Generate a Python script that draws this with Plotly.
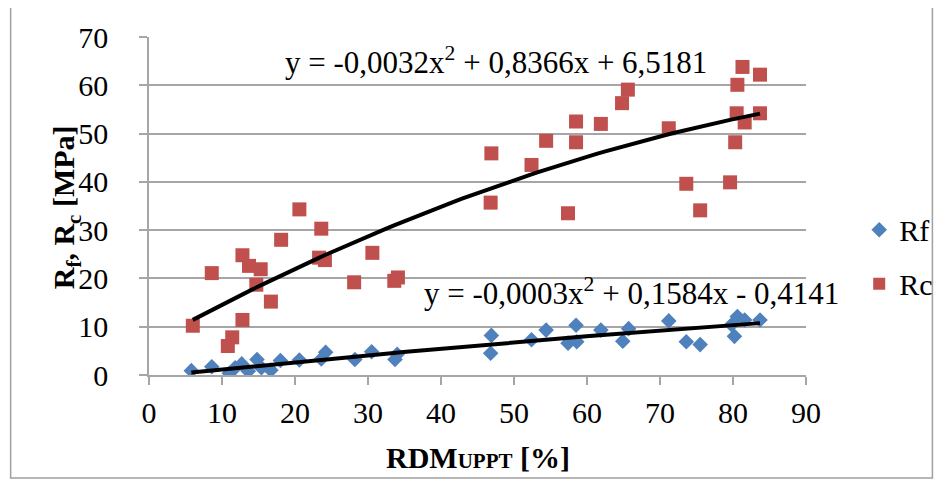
import plotly.graph_objects as go
import numpy as np

# Rf - Messpunkte (RDM_UPPT [%], Rf [MPa])
rf_x = [5.8, 8.6, 11.0, 11.8, 12.7, 13.6, 14.8, 15.4, 16.7, 18.0, 20.6, 23.6, 24.2, 28.2,
        30.5, 33.7, 34.0, 46.8, 46.9, 52.4, 54.4, 57.4, 58.5, 58.6, 61.9, 64.9, 65.7, 71.2,
        73.6, 75.5, 79.8, 80.2, 80.6, 81.6, 83.7]
rf_y = [0.9, 1.7, 0.35, 1.5, 2.3, 0.8, 3.2, 1.5, 1.0, 3.0, 3.1, 3.3, 4.7, 3.2,
        4.8, 3.2, 4.3, 4.5, 8.2, 7.3, 9.3, 6.6, 10.3, 6.9, 9.3, 7.0, 9.6, 11.2,
        6.9, 6.3, 10.4, 8.0, 12.1, 11.4, 11.4]

# Rc - Messpunkte
rc_x = [6.0, 8.6, 10.8, 11.4, 12.8, 12.8, 13.7, 14.7, 15.3, 16.7, 18.1, 20.6, 23.3, 23.6,
        24.1, 28.1, 30.6, 33.6, 34.1, 46.8, 46.9, 52.4, 54.4, 57.4, 58.5, 58.5, 61.9, 64.8,
        65.6, 71.2, 73.6, 75.5, 79.6, 80.3, 80.5, 80.6, 81.3, 81.6, 83.7, 83.7]
rc_y = [10.2, 21.1, 6.0, 7.8, 11.4, 24.8, 22.6, 18.7, 21.9, 15.2, 28.0, 34.3, 24.3, 30.3,
        23.8, 19.2, 25.3, 19.5, 20.2, 35.7, 45.9, 43.5, 48.5, 33.5, 48.2, 52.5, 52.0, 56.3,
        59.1, 51.1, 39.6, 34.1, 39.9, 48.2, 54.2, 60.1, 63.8, 52.3, 62.2, 54.2]

# Trendlinien-Koeffizienten (wie im Diagramm angegeben)
rf_coef = [-0.0003, 0.1584, -0.4141]
rc_coef = [-0.0032, 0.8366, 6.5181]

x_ticks = list(range(0, 100, 10))
y_ticks = list(range(0, 80, 10))

FONT = "Liberation Serif"
GRID = "#a6a6a6"
FS = 30

fig = go.Figure()

fig.add_trace(go.Scatter(x=rf_x, y=rf_y, mode="markers", name="Rf", legendgroup="rf",
                         marker=dict(symbol="diamond", size=12, color="#4f81bd")))
fig.add_trace(go.Scatter(x=rc_x, y=rc_y, mode="markers", name="Rc", legendgroup="rc",
                         marker=dict(symbol="square", size=14, color="#c0504d")))

# Trendlinien über den Datenbereich
for xs, coef in [(rf_x, rf_coef), (rc_x, rc_coef)]:
    t = np.linspace(min(xs), max(xs), 60)
    fig.add_trace(go.Scatter(x=t, y=np.polyval(coef, t), mode="lines", showlegend=False,
                             line=dict(color="black", width=4), hoverinfo="skip"))

fig.add_annotation(x=18.3, y=65.2, xref="x", yref="y", xanchor="left", yanchor="middle",
                   showarrow=False, text="y = -0,0032x<sup>2</sup> + 0,8366x + 6,5181",
                   font=dict(family=FONT, size=31, color="black"))
fig.add_annotation(x=37.4, y=17.2, xref="x", yref="y", xanchor="left", yanchor="middle",
                   showarrow=False, text="y = -0,0003x<sup>2</sup> + 0,1584x - 0,4141",
                   font=dict(family=FONT, size=31, color="black"))

# Achsentitel als Annotationen (feste Position)
fig.add_annotation(x=-0.126, y=0.497, xref="paper", yref="paper", showarrow=False,
                   xanchor="center", yanchor="middle", textangle=-90,
                   text="<b>R<sub>f</sub>, R<sub>c</sub> [MPa]</b>",
                   font=dict(family=FONT, size=FS, color="black"))
fig.add_annotation(x=0.5, y=-0.243, xref="paper", yref="paper", showarrow=False,
                   xanchor="center", yanchor="middle",
                   text="<b>RDM<span style='font-size:21px'>UPPT</span> [%]</b>",
                   font=dict(family=FONT, size=FS, color="black"))

# Rahmen um das ganze Diagramm
fig.add_shape(type="rect", xref="paper", yref="paper", x0=-0.2106, x1=1.1924, y0=-0.305, y1=1.109,
              line=dict(color="#a0a0a0", width=1.5), layer="below")

# Seite hat 8px body-Rand -> Ränder entsprechend kleiner
fig.update_layout(
    width=942, height=504,
    margin=dict(l=141, r=141, t=29, b=137),
    paper_bgcolor="white", plot_bgcolor="white",
    font=dict(family=FONT, size=FS, color="black"),
    showlegend=True,
    legend=dict(x=1.081, y=0.35, xanchor="left", yanchor="middle",
                font=dict(family=FONT, size=FS), itemsizing="constant",
                tracegroupgap=12, bgcolor="rgba(0,0,0,0)"),
    xaxis=dict(range=[0, 90], tickvals=x_ticks, showgrid=False, zeroline=False,
               showline=True, linecolor=GRID, linewidth=1.5, automargin=False,
               ticks="outside", ticklen=8, tickcolor=GRID, tickwidth=1.5,
               ticklabelstandoff=2),
    yaxis=dict(range=[0, 70], tickvals=y_ticks, showgrid=True, gridcolor=GRID, gridwidth=1.5,
               zeroline=False, showline=True, linecolor=GRID, linewidth=1.5, automargin=False,
               ticks="outside", ticklen=8, tickcolor=GRID, tickwidth=1.5,
               ticklabelstandoff=25),
)

fig.write_html("out.html")
